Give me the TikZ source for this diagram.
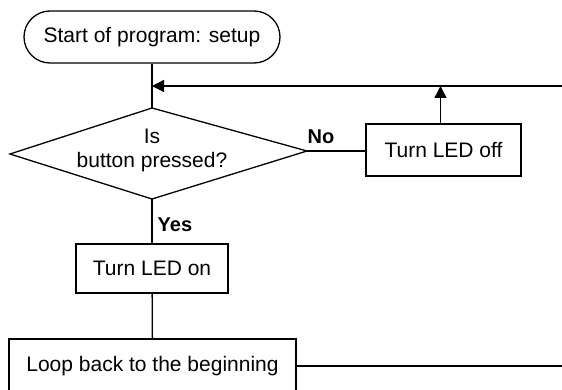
\documentclass[tikz,border=0pt]{standalone}
\usepackage{fontspec}
\setmainfont{Liberation Sans}
\usetikzlibrary{arrows.meta}
\begin{document}
\begin{tikzpicture}[x=1pt,y=-1pt,
  line width=1.3pt,
  every node/.style={font=\fontsize{21}{24}\selectfont},
  box/.style={draw, inner sep=0pt, minimum height=52pt},
  lbl/.style={font=\fontsize{20}{24}\selectfont\bfseries, inner sep=0pt, anchor=base west},
  tip/.style={-{Triangle[length=12pt,width=12pt]}}]
\useasboundingbox (0,0) rectangle (562,390);
\clip (0,0) rectangle (562,390);

% process boxes
\node[box, rounded corners=26pt, minimum width=256pt] (start) at (152,37) {Start of program: setup};
\node[box, minimum width=155pt] (off) at (443.5,150) {Turn LED off};
\node[box, minimum width=152pt, minimum height=49pt] (on) at (152,268.5) {Turn LED on};
\node[box, minimum width=287pt, minimum height=54pt] (loop) at (152.5,366) {Loop back to the beginning};

% decision
\coordinate (dT) at (152,108);
\coordinate (dR) at (307,151);
\coordinate (dB) at (152,199);
\coordinate (dL) at (10,154);
\draw (dT) -- (dR) -- (dB) -- (dL) -- cycle;
\node[align=center] (q) at (152,150) {Is\\button pressed?};

% branch labels
\node[lbl] (no) at (307,144) {No};
\node[lbl] (yes) at (157,232) {Yes};

% return path
\coordinate (ret) at (562,86);
\coordinate (join) at (152,86);
\coordinate (up) at (440.5,86);
\coordinate (loopend) at (562,366);

% connectors
\draw (start) -- (dT);
\draw[tip] (ret) -- (join);
\draw[tip] (up |- off.north) -- (up);
\draw (dR) -- (off.west |- dR);
\draw (dB) -- (on);
\draw (on) -- (loop);
\draw (loop.east) -- (loopend);
\end{tikzpicture}
\end{document}
